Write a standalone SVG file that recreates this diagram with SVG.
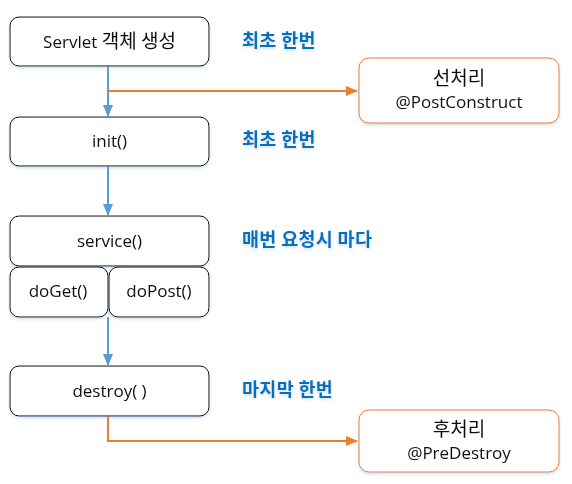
<svg xmlns="http://www.w3.org/2000/svg" width="572" height="484" viewBox="0 0 572 484">
<style>
.box{fill:#fff;stroke:#000;stroke-width:1}
.obox{fill:#fff;stroke:#ED7D31;stroke-width:1}
.t{font-family:"Open Sans","Noto Sans CJK KR",sans-serif;font-size:17px;fill:#111;text-anchor:middle}
.k{font-family:"Noto Sans CJK KR",sans-serif;font-size:19px}
.lbl{font-family:"Noto Sans CJK KR",sans-serif;font-size:18.5px;font-weight:bold;fill:#0070C0;letter-spacing:0.3px}
.blue{stroke:#5B9BD5;stroke-width:2;fill:none}
.orange{stroke:#ED7D31;stroke-width:2;fill:none}
</style>
<defs>
<marker id="ab" markerWidth="12" markerHeight="10" refX="11" refY="5" orient="auto" markerUnits="userSpaceOnUse"><path d="M0,0 L12,5 L0,10 Z" fill="#5B9BD5"/></marker>
<marker id="ao" markerWidth="12" markerHeight="10" refX="11" refY="5" orient="auto" markerUnits="userSpaceOnUse"><path d="M0,0 L12,5 L0,10 Z" fill="#ED7D31"/></marker>
<filter id="sh" x="-10%" y="-10%" width="120%" height="130%"><feDropShadow dx="0" dy="1.5" stdDeviation="1.5" flood-color="#9db8d8" flood-opacity="0.5"/></filter>
</defs>
<g id="connectors">
<line class="blue" x1="108" y1="66" x2="108" y2="116" marker-end="url(#ab)"/>
<polyline class="orange" points="108,91 357,91" marker-end="url(#ao)"/>
<line class="blue" x1="108" y1="166" x2="108" y2="215" marker-end="url(#ab)"/>
<line class="blue" x1="108" y1="317" x2="108" y2="365" marker-end="url(#ab)"/>
<polyline class="orange" points="108,416 108,441 357,441" marker-end="url(#ao)"/>
</g>
<g id="servlet" filter="url(#sh)">
<rect class="box" x="10" y="17" width="199" height="49" rx="9"/>
<text class="t" x="109.5" y="48">Servlet <tspan class="k">객체 생성</tspan></text>
</g>
<g id="init" filter="url(#sh)">
<rect class="box" x="10" y="117" width="199" height="49" rx="9"/>
<text class="t" x="109.5" y="147">init()</text>
</g>
<g id="service" filter="url(#sh)">
<rect class="box" x="10" y="216" width="199" height="50" rx="9"/>
<text class="t" x="109.5" y="247">service()</text>
</g>
<g id="doGet" filter="url(#sh)">
<rect class="box" x="10" y="267" width="98" height="50" rx="9"/>
<text class="t" x="58" y="297">doGet()</text>
</g>
<g id="doPost" filter="url(#sh)">
<rect class="box" x="109" y="267" width="100" height="50" rx="9"/>
<text class="t" x="159" y="297">doPost()</text>
</g>
<g id="destroy" filter="url(#sh)">
<rect class="box" x="10" y="366" width="199" height="50" rx="9"/>
<text class="t" x="109.5" y="397">destroy( )</text>
</g>
<g id="postconstruct" filter="url(#sh)">
<rect class="obox" x="359" y="58" width="200" height="65" rx="10"/>
<text class="t" x="459" y="85"><tspan class="k">선처리</tspan></text>
<text class="t" x="459" y="108">@PostConstruct</text>
</g>
<g id="predestroy" filter="url(#sh)">
<rect class="obox" x="359" y="410" width="200" height="62" rx="10"/>
<text class="t" x="459" y="436"><tspan class="k">후처리</tspan></text>
<text class="t" x="459" y="459">@PreDestroy</text>
</g>
<g id="labels" filter="url(#sh)">
<text class="lbl" x="242" y="47">최초 한번</text>
<text class="lbl" x="242" y="146">최초 한번</text>
<text class="lbl" x="242" y="246">매번 요청시 마다</text>
<text class="lbl" x="242" y="396">마지막 한번</text>
</g>
</svg>
